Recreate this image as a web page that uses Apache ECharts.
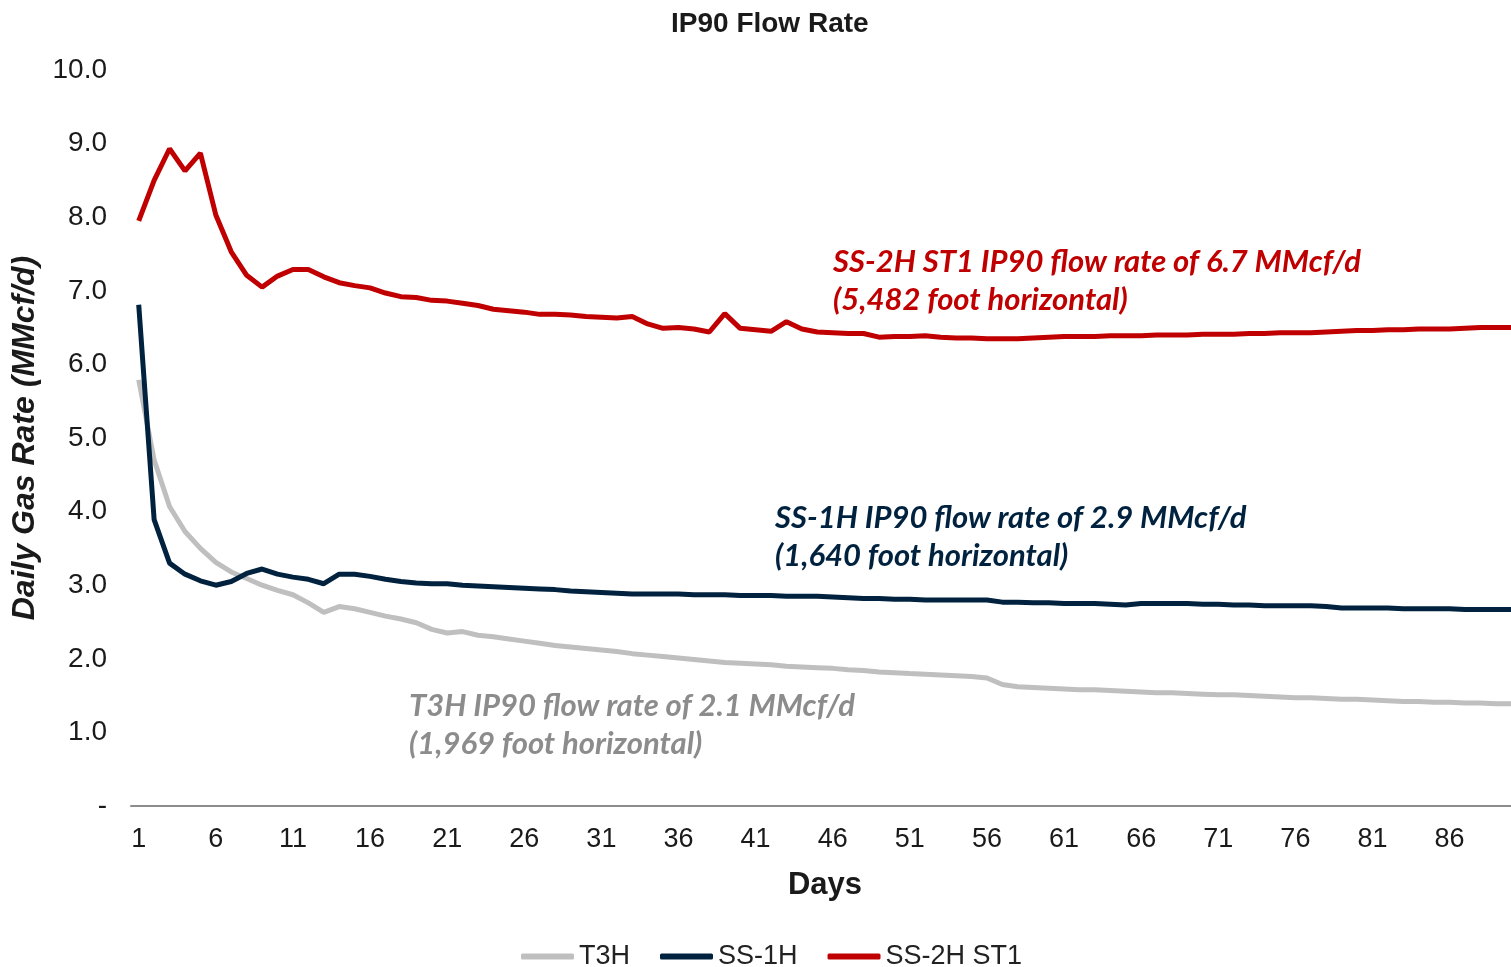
<!DOCTYPE html>
<html>
<head>
<meta charset="utf-8">
<script src="https://cdn.jsdelivr.net/npm/echarts@6/dist/echarts.min.js"></script>
<style>
html,body{margin:0;padding:0;background:#fff;}
#chart{width:1511px;height:967px;}
</style>
</head>
<body>
<div id="chart"></div>
<script>
const days = Array.from({length: 90}, (_, i) => String(i + 1));

const t3h = [5.79,4.70,4.07,3.73,3.50,3.31,3.18,3.09,3.00,2.93,
  2.87,2.76,2.63,2.71,2.68,2.63,2.58,2.54,2.49,2.40,
  2.35,2.37,2.32,2.30,2.27,2.24,2.21,2.18,2.16,2.14,
  2.12,2.10,2.07,2.05,2.03,2.01,1.99,1.97,1.95,1.94,
  1.93,1.92,1.90,1.89,1.88,1.87,1.85,1.84,1.82,1.81,
  1.80,1.79,1.78,1.77,1.76,1.74,1.65,1.62,1.61,1.60,
  1.59,1.58,1.58,1.57,1.56,1.55,1.54,1.54,1.53,1.52,
  1.51,1.51,1.50,1.49,1.48,1.47,1.47,1.46,1.45,1.45,
  1.44,1.43,1.42,1.42,1.41,1.41,1.40,1.40,1.39,1.39];

const ss1h = [6.81,3.89,3.30,3.15,3.06,3.00,3.05,3.16,3.22,3.15,
  3.11,3.08,3.02,3.15,3.15,3.12,3.08,3.05,3.03,3.02,
  3.02,3.00,2.99,2.98,2.97,2.96,2.95,2.94,2.92,2.91,
  2.90,2.89,2.88,2.88,2.88,2.88,2.87,2.87,2.87,2.86,
  2.86,2.86,2.85,2.85,2.85,2.84,2.83,2.82,2.82,2.81,
  2.81,2.80,2.80,2.80,2.80,2.80,2.77,2.77,2.76,2.76,
  2.75,2.75,2.75,2.74,2.73,2.75,2.75,2.75,2.75,2.74,
  2.74,2.73,2.73,2.72,2.72,2.72,2.72,2.71,2.69,2.69,
  2.69,2.69,2.68,2.68,2.68,2.68,2.67,2.67,2.67,2.67];

const ss2h = [7.95,8.50,8.93,8.63,8.87,8.03,7.53,7.21,7.05,7.20,
  7.29,7.29,7.19,7.11,7.07,7.04,6.97,6.92,6.91,6.87,
  6.86,6.83,6.80,6.75,6.73,6.71,6.68,6.68,6.67,6.65,
  6.64,6.63,6.65,6.55,6.49,6.50,6.48,6.44,6.69,6.49,
  6.47,6.45,6.58,6.48,6.44,6.43,6.42,6.42,6.37,6.38,
  6.38,6.39,6.37,6.36,6.36,6.35,6.35,6.35,6.36,6.37,
  6.38,6.38,6.38,6.39,6.39,6.39,6.40,6.40,6.40,6.41,
  6.41,6.41,6.42,6.42,6.43,6.43,6.43,6.44,6.45,6.46,
  6.46,6.47,6.47,6.48,6.48,6.48,6.49,6.50,6.50,6.50];

const seriesNames = ['T3H', 'SS-1H', 'SS-2H ST1'];
const notes = [
  ['T3H IP90 flow rate of 2.1 MMcf/d', '(1,969 foot horizontal)'],
  ['SS-1H IP90 flow rate of 2.9 MMcf/d', '(1,640 foot horizontal)'],
  ['SS-2H ST1 IP90 flow rate of 6.7 MMcf/d', '(5,482 foot horizontal)']
];

const colors = ['#BFBFBF', '#00223F', '#C00000'];
const noteColors = ['#8C8C8C', '#00223F', '#C00000'];
const narrow = '"Liberation Sans Narrow", "Arial Narrow", "Liberation Sans", Arial, sans-serif';
const sans = '"Liberation Sans", Arial, sans-serif';
const noteFont = 'Lato, "Open Sans", sans-serif';

const chart = echarts.init(document.getElementById('chart'));
const notePos = [[409, 707], [775, 519], [833, 263]];

const graphics = [];
notes.forEach((n, i) => {
  graphics.push({
    type: 'text', left: notePos[i][0], top: notePos[i][1] - 20,
    style: {
      text: n[0] + '\n' + n[1], fill: noteColors[i],
      font: 'italic bold 31px ' + noteFont, lineHeight: 38
    }
  });
});

chart.setOption({
  backgroundColor: '#ffffff',
  animation: false,
  title: {
    text: 'IP90 Flow Rate', left: 666, top: 5,
    textStyle: {fontFamily: sans, fontWeight: 'bold', fontSize: 28, color: '#1a1a1a'}
  },
  grid: {left: 131, top: 70, width: 1388, bottom: 161, containLabel: false, outerBoundsMode: 'none'},
  legend: {
    data: seriesNames, left: 516, bottom: -8,
    icon: 'roundRect', itemWidth: 53, itemHeight: 6, itemGap: 30,
    textStyle: {fontFamily: sans, fontSize: 27, color: '#222', padding: [0, 0, 0, 0]}
  },
  xAxis: {
    type: 'category', data: days, boundaryGap: true,
    name: 'Days', nameLocation: 'middle', nameGap: 64,
    nameTextStyle: {fontFamily: narrow, fontWeight: 'bold', fontSize: 31, color: '#1a1a1a'},
    axisLine: {lineStyle: {color: '#8c8c8c', width: 2}},
    axisTick: {show: false},
    axisLabel: {interval: 4, fontFamily: narrow, fontSize: 27, color: '#1a1a1a', margin: 20}
  },
  yAxis: {
    type: 'value', min: 0, max: 10, interval: 1,
    name: 'Daily Gas Rate (MMcf/d)', nameLocation: 'middle', nameGap: 87,
    nameTextStyle: {fontFamily: narrow, fontWeight: 'bold', fontStyle: 'italic', fontSize: 32, color: '#1a1a1a'},
    axisLine: {show: false}, axisTick: {show: false}, splitLine: {show: false},
    axisLabel: {
      fontFamily: sans, fontSize: 28, color: '#1a1a1a', margin: 24,
      formatter: v => v === 0 ? '-' : v.toFixed(1)
    }
  },
  series: [t3h, ss1h, ss2h].map((d, i) => ({
    name: seriesNames[i], type: 'line', data: d, showSymbol: false, symbol: 'none',
    lineStyle: {color: colors[i], width: 5}, itemStyle: {color: colors[i]}
  })),
  graphic: graphics
});
</script>
</body>
</html>
